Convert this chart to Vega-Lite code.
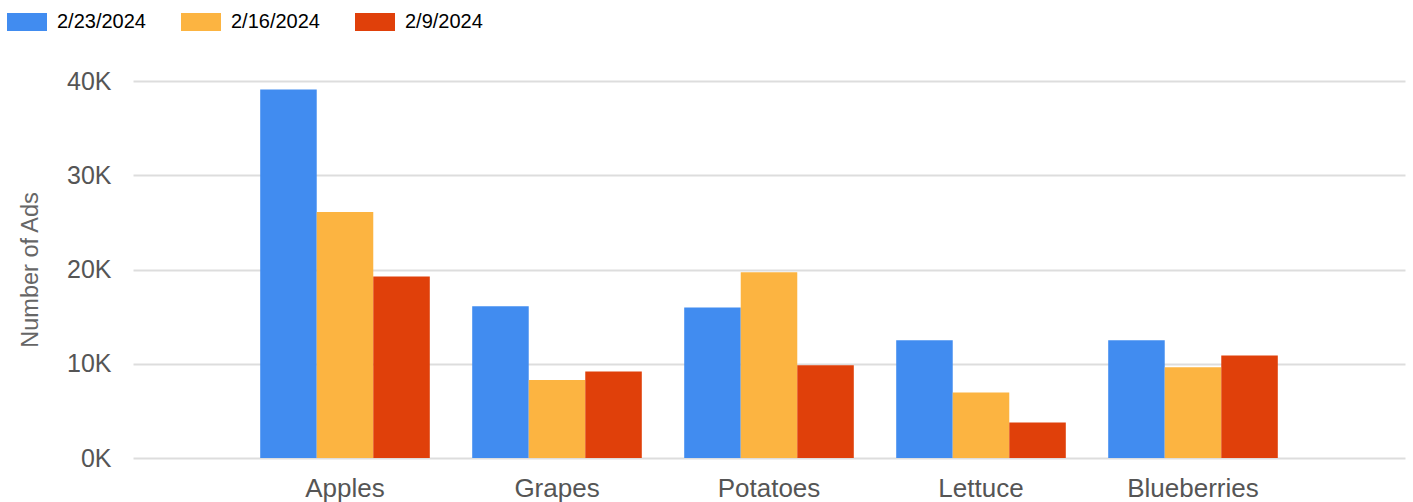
{
  "$schema": "https://vega.github.io/schema/vega-lite/v6.json",
  "width": 1272,
  "height": 377,
  "autosize": {"type": "none"},
  "padding": {"left": 133, "top": 81, "right": 8, "bottom": 44},
  "background": "white",
  "config": {
    "view": {"stroke": null},
    "font": "Liberation Sans"
  },
  "data": {
    "values": [
      {"item": "Apples", "week": "2/23/2024", "ads": 39100},
      {"item": "Apples", "week": "2/16/2024", "ads": 26100},
      {"item": "Apples", "week": "2/9/2024", "ads": 19250},
      {"item": "Grapes", "week": "2/23/2024", "ads": 16100},
      {"item": "Grapes", "week": "2/16/2024", "ads": 8280},
      {"item": "Grapes", "week": "2/9/2024", "ads": 9170},
      {"item": "Potatoes", "week": "2/23/2024", "ads": 15970},
      {"item": "Potatoes", "week": "2/16/2024", "ads": 19710},
      {"item": "Potatoes", "week": "2/9/2024", "ads": 9840},
      {"item": "Lettuce", "week": "2/23/2024", "ads": 12490},
      {"item": "Lettuce", "week": "2/16/2024", "ads": 6940},
      {"item": "Lettuce", "week": "2/9/2024", "ads": 3760},
      {"item": "Blueberries", "week": "2/23/2024", "ads": 12490},
      {"item": "Blueberries", "week": "2/16/2024", "ads": 9630},
      {"item": "Blueberries", "week": "2/9/2024", "ads": 10870}
    ]
  },
  "mark": {"type": "bar"},
  "encoding": {
    "x": {
      "field": "item",
      "type": "nominal",
      "sort": ["Apples", "Grapes", "Potatoes", "Lettuce", "Blueberries"],
      "scale": {"paddingInner": 0.2, "paddingOuter": 0.6},
      "axis": {
        "title": null,
        "labelAngle": 0,
        "domain": false,
        "ticks": false,
        "tickSize": 0,
        "labelPadding": 17,
        "labelFontSize": 26,
        "labelColor": "#555555",
        "labelFont": "Liberation Sans"
      }
    },
    "xOffset": {
      "field": "week",
      "type": "nominal",
      "sort": ["2/23/2024", "2/16/2024", "2/9/2024"]
    },
    "y": {
      "field": "ads",
      "type": "quantitative",
      "scale": {"domain": [0, 40000], "nice": false},
      "axis": {
        "title": "Number of Ads",
        "values": [0, 10000, 20000, 30000, 40000],
        "labelExpr": "datum.value / 1000 + 'K'",
        "domain": false,
        "ticks": false,
        "tickSize": 0,
        "labelPadding": 22,
        "labelFontSize": 25,
        "labelColor": "#555555",
        "labelFont": "Liberation Sans",
        "gridColor": "#dddddd",
        "gridWidth": 2,
        "titleFontSize": 23.5,
        "titleFontWeight": "normal",
        "titleColor": "#666666",
        "titleFont": "Liberation Sans",
        "titleAngle": -90,
        "titleBaseline": "alphabetic",
        "titleAlign": "center",
        "titleX": -96,
        "titleY": 188.5
      }
    },
    "color": {
      "field": "week",
      "type": "nominal",
      "sort": ["2/23/2024", "2/16/2024", "2/9/2024"],
      "scale": {
        "domain": ["2/23/2024", "2/16/2024", "2/9/2024"],
        "range": ["#418CF0", "#FCB441", "#E0400A"]
      },
      "legend": {
        "title": null,
        "orient": "none",
        "direction": "horizontal",
        "legendX": -126,
        "legendY": -79,
        "padding": 0,
        "symbolType": "M-1,-0.45L1,-0.45L1,0.45L-1,0.45Z",
        "symbolSize": 1600,
        "symbolStrokeWidth": 0,
        "labelFontSize": 20,
        "labelColor": "#000000",
        "labelFont": "Liberation Sans",
        "labelOffset": 10,
        "columnPadding": 35
      }
    }
  }
}
